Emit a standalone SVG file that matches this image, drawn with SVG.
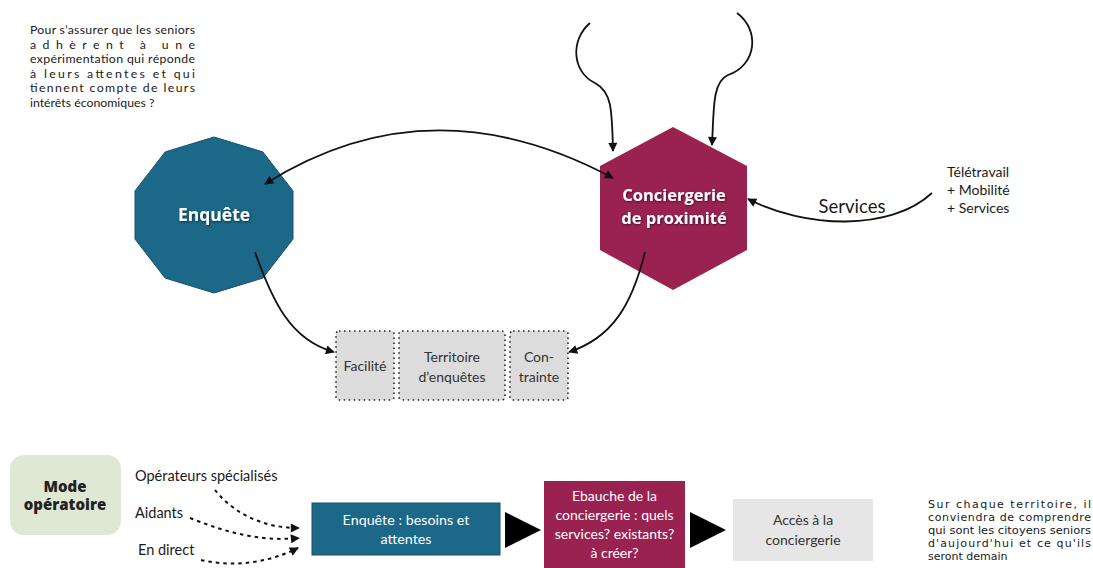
<svg xmlns="http://www.w3.org/2000/svg" width="1093" height="568" viewBox="0 0 1093 568">
<style>
.t{font-family:Lato,"Open Sans","Liberation Sans",sans-serif;fill:#1a1a1a}
.w{font-family:"Open Sans",Lato,"Liberation Sans",sans-serif;fill:#fff;font-weight:bold}
.g{font-family:Lato,"Open Sans","Liberation Sans",sans-serif;fill:#333}
.v{font-family:"DejaVu Sans","Liberation Sans",sans-serif;fill:#1a1a1a}
.c{fill:none;stroke:#111;stroke-width:1.8}
.d{fill:none;stroke:#111;stroke-width:2;stroke-dasharray:3.5 4}
.box{fill:#dcdcdc;stroke:#222;stroke-width:1.6;stroke-dasharray:1.5 3.5}
</style>
<defs>
<marker id="ah" viewBox="0 0 10 10" refX="9" refY="5" markerWidth="11" markerHeight="9" markerUnits="userSpaceOnUse" orient="auto-start-reverse">
<path d="M0,0 L10,5 L0,10 z" fill="#111"/>
</marker>
<filter id="sh" x="-10%" y="-30%" width="130%" height="160%">
<feDropShadow dx="0.8" dy="1" stdDeviation="0.8" flood-color="#000" flood-opacity="0.55"/>
</filter>
</defs>

<g id="question">
<text class="t" font-size="12.3"><tspan x="30" y="34" textLength="165" lengthAdjust="spacing">Pour s’assurer que les seniors</tspan><tspan x="30" y="48.5" textLength="165" lengthAdjust="spacing">adhèrent à une</tspan><tspan x="30" y="63" textLength="165" lengthAdjust="spacing">expérimentation qui réponde</tspan><tspan x="30" y="77.5" textLength="165" lengthAdjust="spacing">à leurs attentes et qui</tspan><tspan x="30" y="92" textLength="165" lengthAdjust="spacing">tiennent compte de leurs</tspan><tspan x="30" y="106.5">intérêts économiques ?</tspan></text>
</g>

<g id="enquete">
<polygon points="214,137 262.8,151.9 293,190.9 293,239.1 262.8,278.1 214,293 165.2,278.1 135,239.1 135,190.9 165.2,151.9" fill="#1b6888" stroke="#16506a" stroke-width="1"/>
<text class="w" x="214" y="221" font-size="17.5" text-anchor="middle" filter="url(#sh)">Enquête</text>
</g>

<g id="conciergerie">
<polygon points="673,127 747,166 747,250 673,290 600,250 600,166" fill="#9a2250"/>
<text class="w" font-size="16.5" text-anchor="middle" filter="url(#sh)"><tspan x="674" y="201">Conciergerie</tspan><tspan x="674" y="224">de proximité</tspan></text>
</g>

<g id="sources">
<text class="t" font-size="14"><tspan x="947" y="177">Télétravail</tspan><tspan x="947" y="195">+ Mobilité</tspan><tspan x="947" y="213">+ Services</tspan></text>
</g>

<g id="facilite">
<rect class="box" x="336" y="331" width="58" height="69" rx="3"/>
<text class="g" x="365" y="371" font-size="14" text-anchor="middle">Facilité</text>
</g>
<g id="territoire">
<rect class="box" x="399" y="331" width="106" height="69" rx="3"/>
<text class="g" font-size="14" text-anchor="middle"><tspan x="452" y="362">Territoire</tspan><tspan x="452" y="382">d’enquêtes</tspan></text>
</g>
<g id="contrainte">
<rect class="box" x="510" y="331" width="58" height="69" rx="3"/>
<text class="g" font-size="14" text-anchor="middle"><tspan x="539" y="362">Con-</tspan><tspan x="539" y="382">trainte</tspan></text>
</g>

<g id="mode">
<rect x="10" y="455" width="111" height="80" rx="14" fill="#dfe8d5"/>
<text font-family="'Open Sans',Lato,'Liberation Sans',sans-serif" font-size="15" font-weight="800" text-anchor="middle" fill="#222"><tspan x="65" y="492">Mode</tspan><tspan x="65" y="510">opératoire</tspan></text>
</g>

<g id="acteurs">
<text class="t" font-size="14.5"><tspan x="135" y="481">Opérateurs spécialisés</tspan><tspan x="135" y="518">Aidants</tspan><tspan x="138" y="555">En direct</tspan></text>
</g>

<g id="etape1">
<rect x="312" y="503" width="188" height="52" fill="#1b6888" stroke="#16506a" stroke-width="1"/>
<text font-family="Lato,'Open Sans','Liberation Sans',sans-serif" fill="#fff" font-size="14.3" text-anchor="middle"><tspan x="406" y="525">Enquête : besoins et</tspan><tspan x="406" y="544">attentes</tspan></text>
</g>
<g id="etape2">
<rect x="544" y="481" width="141" height="90" fill="#9a2250"/>
<text font-family="Lato,'Open Sans','Liberation Sans',sans-serif" fill="#fff" font-size="14" text-anchor="middle"><tspan x="614.5" y="501">Ebauche de la</tspan><tspan x="614.5" y="520">conciergerie : quels</tspan><tspan x="614.5" y="539">services? existants?</tspan><tspan x="614.5" y="558">à créer?</tspan></text>
</g>
<g id="etape3">
<rect x="733" y="499" width="140" height="62" fill="#e6e6e6"/>
<text class="g" font-size="14" text-anchor="middle"><tspan x="803" y="525">Accès à la</tspan><tspan x="803" y="545">conciergerie</tspan></text>
</g>

<g id="note">
<text class="v" font-size="11"><tspan x="928" y="508" textLength="163" lengthAdjust="spacing">Sur chaque territoire, il</tspan><tspan x="928" y="521" textLength="163" lengthAdjust="spacing">conviendra de comprendre</tspan><tspan x="928" y="534" textLength="163" lengthAdjust="spacingAndGlyphs">qui sont les citoyens seniors</tspan><tspan x="928" y="547" textLength="163" lengthAdjust="spacing">d'aujourd'hui et ce qu'ils</tspan><tspan x="928" y="560">seront demain</tspan></text>
</g>

<g id="connectors">
<path class="c" d="M265,184 Q430,80 613,178" marker-start="url(#ah)" marker-end="url(#ah)"/>
<path class="c" d="M255,252 C272,300 290,340 334,352" marker-end="url(#ah)"/>
<path class="c" d="M645,252 C632,305 612,338 569,352" marker-end="url(#ah)"/>
<path class="c" d="M932,193 C890,232 805,228 748,199" marker-end="url(#ah)"/>
<path class="c" stroke-width="1.5" d="M590,23 C570,40 572,72 595,83 C612,92 612,110 613,151" marker-end="url(#ah)"/>
<path class="c" stroke-width="1.5" d="M737,13 C760,30 757,65 728,75 C712,82 714,110 712,145" marker-end="url(#ah)"/>
<path class="d" d="M215,490 C235,515 265,528 299,528" marker-end="url(#ah)"/>
<path class="d" d="M190,518 C225,532 260,542 299,538" marker-end="url(#ah)"/>
<path class="d" d="M201,560 C235,568 270,562 298,548" marker-end="url(#ah)"/>
<polygon points="505,512 541,530 505,548" fill="#000"/>
<polygon points="690,512 726,530 690,548" fill="#000"/>
<text class="t" x="852" y="213" font-size="18.5" text-anchor="middle">Services</text>
</g>
</svg>
